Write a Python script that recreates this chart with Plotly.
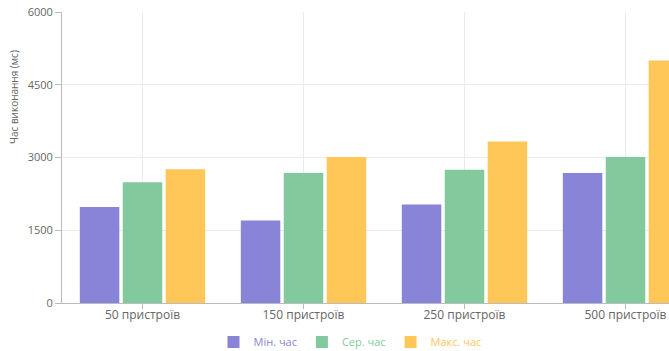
import plotly.graph_objects as go

# Execution time per device count (ms)
categories = ["50 пристроїв", "150 пристроїв", "250 пристроїв", "500 пристроїв"]
min_time = [1980, 1700, 2030, 2680]
avg_time = [2490, 2680, 2750, 3010]
max_time = [2760, 3010, 3330, 5000]
series_names = ["Мін. час", "Сер. час", "Макс. час"]
y_ticks = [0, 1500, 3000, 4500, 6000]

colors = ["#8884d8", "#82ca9d", "#ffc658"]
font_family = "Open Sans, Segoe UI, sans-serif"

fig = go.Figure()
for name, vals, col in zip(series_names, [min_time, avg_time, max_time], colors):
    fig.add_trace(go.Bar(
        x=list(range(len(categories))), y=vals,
        # legend entry text takes the series colour
        name=f'<span style="color:{col}">{name}</span>',
        marker=dict(color=col, line=dict(width=0)),
    ))

W, H = 669, 351
ml, mr, mt, mb = 62, 0, 12, 48
plot_w = W - ml - mr
band = 161  # pixel width of one category

fig.update_layout(
    width=W, height=H,
    margin=dict(l=ml, r=mr, t=mt, b=mb, autoexpand=False),
    paper_bgcolor="white", plot_bgcolor="white",
    barmode="group", bargap=0.2, bargroupgap=0.08,
    font=dict(family=font_family, size=11, color="#666"),
    showlegend=True,
    legend=dict(
        orientation="h", x=(350 - ml) / plot_w, xanchor="center",
        y=-(342 - (H - mb)) / (H - mt - mb), yanchor="middle",
        font=dict(size=11, color="#666"),
        itemwidth=30, traceorder="normal",
    ),
    xaxis=dict(
        tickmode="array", tickvals=list(range(len(categories))), ticktext=categories,
        range=[-0.5, -0.5 + plot_w / band],
        showgrid=True, gridcolor="#ececec", gridwidth=1,
        showline=True, linecolor="#bbb", linewidth=1,
        ticks="outside", ticklen=5, tickcolor="#bbb",
        ticklabelstandoff=-4,
        zeroline=False,
        tickfont=dict(size=12, color="#666"),
    ),
    yaxis=dict(
        range=[0, 6000], tickmode="array", tickvals=y_ticks,
        showgrid=True, gridcolor="#ececec", gridwidth=1,
        showline=True, linecolor="#bbb", linewidth=1,
        ticks="outside", ticklen=6, tickcolor="#bbb",
        zeroline=False,
        tickfont=dict(size=11, color="#666"),
    ),
    annotations=[dict(
        text="Час виконання (мс)", textangle=-90,
        xref="paper", yref="paper",
        x=(14 - ml) / plot_w, y=(H - mb - 97) / (H - mt - mb),
        xanchor="center", yanchor="middle", showarrow=False,
        font=dict(size=10, color="#666"),
    )],
)

fig.write_html("out.html")
